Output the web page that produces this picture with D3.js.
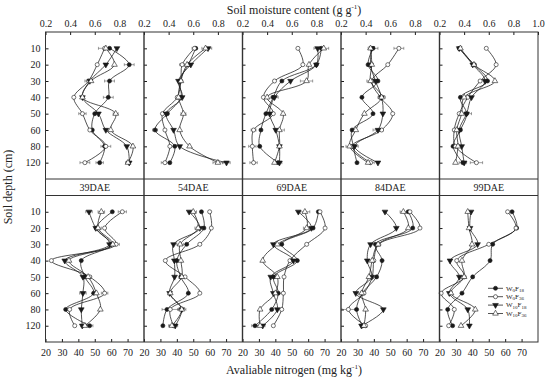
<!DOCTYPE html>
<html>
<head>
<meta charset="utf-8">
<script src="https://cdn.jsdelivr.net/npm/d3@7"></script>
<style>
body { margin: 0; background: #fff; }
text { font-family: "Liberation Serif", "Times New Roman", serif; fill: #222; }
</style>
</head>
<body>
<svg id="chart"></svg>
<script>
const width = 550;
const height = 381;

// depths and growth stages
const depths = ["10", "20", "30", "40", "50", "60", "80", "120"];
const stages = ["39DAE", "54DAE", "69DAE", "84DAE", "99DAE"];
const seriesLabels = [["W", "0", "F", "18"], ["W", "0", "F", "36"], ["W", "10", "F", "18"], ["W", "10", "F", "36"]];

// soil moisture (g g-1), order per stage: filled circle, open circle, filled triangle, open triangle
const moisture39 = [
    [0.72, 0.88, 0.72, 0.71, 0.60, 0.58, 0.68, 0.64],
    [0.68, 0.62, 0.55, 0.43, 0.50, 0.56, 0.69, 0.52],
    [0.78, 0.69, 0.56, 0.50, 0.63, 0.69, 0.86, 0.88],
    [0.69, 0.76, 0.57, 0.50, 0.77, 0.73, 0.91, 0.87]
];
const moisture54 = [
    [0.62, 0.56, 0.49, 0.50, 0.39, 0.29, 0.45, 0.41],
    [0.61, 0.51, 0.50, 0.47, 0.35, 0.37, 0.41, 0.37],
    [0.72, 0.58, 0.48, 0.51, 0.38, 0.44, 0.49, 0.87],
    [0.70, 0.55, 0.50, 0.48, 0.52, 0.49, 0.57, 0.80]
];
const moisture69 = [
    [0.84, 0.80, 0.52, 0.45, 0.39, 0.35, 0.34, 0.49],
    [0.65, 0.69, 0.46, 0.37, 0.45, 0.29, 0.28, 0.29],
    [0.81, 0.80, 0.59, 0.46, 0.42, 0.47, 0.50, 0.50],
    [0.86, 0.74, 0.72, 0.40, 0.53, 0.50, 0.50, 0.46]
];
const moisture84 = [
    [0.46, 0.42, 0.50, 0.37, 0.46, 0.29, 0.30, 0.33],
    [0.67, 0.58, 0.45, 0.52, 0.62, 0.53, 0.29, 0.44],
    [0.45, 0.44, 0.48, 0.53, 0.54, 0.50, 0.31, 0.50],
    [0.44, 0.45, 0.44, 0.53, 0.39, 0.32, 0.27, 0.42]
];
const moisture99 = [
    [0.36, 0.48, 0.59, 0.37, 0.42, 0.37, 0.31, 0.39],
    [0.58, 0.66, 0.53, 0.43, 0.36, 0.32, 0.33, 0.50],
    [0.36, 0.47, 0.57, 0.46, 0.42, 0.36, 0.38, 0.40],
    [0.37, 0.48, 0.65, 0.40, 0.38, 0.34, 0.35, 0.33]
];

// available nitrogen (mg kg-1)
const nitrogen39 = [
    [60.7, 51, 60, 41.8, 44, 49.3, 32.3, 46.9],
    [66.8, 56, 63, 23.6, 47, 56, 34.7, 37.8],
    [46.5, 50.6, 59, 31.7, 42.8, 42.8, 41.8, 42.4],
    [54, 52, 61, 34.3, 46, 51, 53.4, 44]
];
const nitrogen54 = [
    [55, 56.5, 46, 40, 42.4, 47, 34, 31.5],
    [60, 61, 54, 33, 45, 54, 36, 38],
    [47.5, 54, 38, 38.5, 38.6, 35.6, 43, 39],
    [50, 53, 42, 42.5, 43, 36, 43, 37]
];
const nitrogen69 = [
    [66.2, 63, 43.9, 53.4, 39, 41.8, 37.8, 27.6],
    [67.2, 70.3, 59.1, 48.9, 45.3, 44.9, 43.9, 38.8],
    [54, 62, 38.8, 51, 37.2, 38.8, 41.2, 32.3],
    [58, 59.1, 41.2, 32.3, 41.2, 40, 30.7, 30.7]
];
const nitrogen84 = [
    [61, 63.7, 41, 45, 41.7, 33, 29.5, 33],
    [62, 68.1, 43, 40, 39, 34, 24.5, 35],
    [46.8, 53.7, 38, 36, 38.7, 29, 45.8, 32.5],
    [58, 61, 42.6, 39, 37, 32.6, 35, 34]
];
const nitrogen99 = [
    [64.2, 67, 52.4, 50.8, 40.2, 33.7, 25, 28],
    [61.5, 66.6, 50, 30.5, 35.1, 21, 29, 25.6],
    [39.2, 38.6, 43.2, 26.4, 32.1, 26, 37.2, 38.2],
    [37.2, 38, 39.8, 33.7, 35, 27, 41.8, 33.1]
];

// visible error bars: [stage, series, depth index, half width]
const moistureErr = [
    [0, 1, 0, 0.05], [0, 0, 1, 0.04], [0, 1, 2, 0.03], [0, 0, 2, 0.04], [0, 0, 3, 0.04],
    [0, 1, 4, 0.03], [0, 3, 4, 0.02], [0, 1, 6, 0.04], [0, 3, 7, 0.02], [0, 1, 7, 0.04], [0, 0, 7, 0.03],
    [1, 3, 0, 0.03], [1, 2, 0, 0.03], [1, 1, 0, 0.02], [1, 1, 1, 0.02], [1, 3, 4, 0.02],
    [1, 0, 5, 0.02], [1, 3, 7, 0.04], [1, 2, 7, 0.03], [1, 1, 7, 0.03],
    [2, 0, 0, 0.06], [2, 3, 2, 0.05], [2, 2, 3, 0.03], [2, 1, 5, 0.02], [2, 3, 5, 0.04],
    [2, 1, 6, 0.03], [2, 0, 7, 0.03], [2, 1, 7, 0.03],
    [3, 0, 0, 0.04], [3, 1, 0, 0.04], [3, 3, 2, 0.03], [3, 2, 3, 0.03], [3, 2, 5, 0.04],
    [3, 1, 6, 0.05], [3, 1, 7, 0.03],
    [4, 3, 1, 0.02], [4, 0, 4, 0.04], [4, 1, 7, 0.05], [4, 0, 7, 0.03]
];
const nitrogenErr = [
    [0, 2, 0, 2], [0, 3, 0, 2], [0, 1, 0, 2.5], [0, 3, 1, 2], [0, 1, 2, 2], [0, 3, 4, 2],
    [0, 2, 5, 2], [0, 1, 5, 2], [0, 3, 7, 2.5], [0, 0, 7, 2],
    [1, 3, 0, 2], [1, 3, 1, 2], [1, 3, 2, 2], [1, 1, 6, 5], [1, 3, 6, 2.5], [1, 1, 7, 2.5], [1, 3, 7, 2],
    [2, 3, 0, 3], [2, 3, 1, 2], [2, 3, 7, 3], [2, 0, 7, 2],
    [3, 3, 0, 2], [3, 1, 6, 4], [3, 3, 5, 2]
];

const moistureStages = [moisture39, moisture54, moisture69, moisture84, moisture99];
const nitrogenStages = [nitrogen39, nitrogen54, nitrogen69, nitrogen84, nitrogen99];

const svg = d3.select("#chart").attr("width", width).attr("height", height);

const plotLeft = 45.5;
const panelW = 98.5;
const topY0 = 32, topY1 = 179;
const stripY1 = 195.5;
const botY1 = 342;
const ink = "#1a1a1a";
const serif = "'Liberation Serif', 'Times New Roman', serif";

const yTop = d3.scalePoint().domain(depths).range([topY0, topY1]).padding(1);
const yBot = d3.scalePoint().domain(depths).range([stripY1, botY1]).padding(1);

function markerPath(i) {
    if (i < 2) return d3.symbol(d3.symbolCircle, 13)();
    return d3.symbol(d3.symbolTriangle, 14)();
}
const filled = [true, false, true, false];
const rotate = [0, 0, 180, 0];

function drawPanel(g, data, errs, x, y, p) {
    const line = d3.line()
        .x(d => x(d.v))
        .y(d => y(d.depth))
        .curve(d3.curveCatmullRom.alpha(0.5));

    data.forEach((vals, s) => {
        const pts = vals.map((v, k) => ({ v: v, depth: depths[k] }));
        g.append("path")
            .attr("d", line(pts))
            .attr("fill", "none")
            .attr("stroke", ink)
            .attr("stroke-width", 0.75);
    });

    errs.filter(e => e[0] === p).forEach(e => {
        const v = data[e[1]][e[2]];
        const cy = y(depths[e[2]]);
        const eg = g.append("g").attr("stroke", "#444").attr("stroke-width", 0.5);
        eg.append("line").attr("x1", x(v - e[3])).attr("x2", x(v + e[3])).attr("y1", cy).attr("y2", cy);
        eg.append("line").attr("x1", x(v - e[3])).attr("x2", x(v - e[3])).attr("y1", cy - 1.5).attr("y2", cy + 1.5);
        eg.append("line").attr("x1", x(v + e[3])).attr("x2", x(v + e[3])).attr("y1", cy - 1.5).attr("y2", cy + 1.5);
    });

    data.forEach((vals, s) => {
        g.selectAll(null)
            .data(vals)
            .enter().append("path")
            .attr("d", markerPath(s))
            .attr("transform", (v, k) => `translate(${x(v)},${y(depths[k])}) rotate(${rotate[s]})`)
            .attr("fill", filled[s] ? ink : "#fff")
            .attr("stroke", ink)
            .attr("stroke-width", 0.6);
    });
}

function styleAxis(a) {
    a.select(".domain").remove();
    a.selectAll("line").attr("stroke", ink);
    a.selectAll("text").style("font-size", "10px").style("font-family", serif).attr("fill", ink);
}

stages.forEach((stage, p) => {
    const left = plotLeft + p * panelW;
    const xM = d3.scaleLinear().domain([0.2, 1.0]).range([left, left + panelW]);
    const xN = d3.scaleLinear().domain([20, 80]).range([left, left + panelW]);
    const last = p === stages.length - 1;

    // top axis (moisture)
    svg.append("g")
        .attr("transform", `translate(0,${topY0})`)
        .call(d3.axisTop(xM)
            .tickValues(last ? [0.2, 0.4, 0.6, 0.8, 1.0] : [0.2, 0.4, 0.6, 0.8])
            .tickFormat(d3.format(".1f"))
            .tickSizeInner(-3).tickSizeOuter(0).tickPadding(5))
        .call(styleAxis);

    // bottom axis (nitrogen)
    svg.append("g")
        .attr("transform", `translate(0,${botY1})`)
        .call(d3.axisBottom(xN)
            .tickValues([20, 30, 40, 50, 60, 70])
            .tickSizeInner(-3).tickSizeOuter(0).tickPadding(7))
        .call(styleAxis);

    // depth ticks on each panel
    [yTop, yBot].forEach(ys => {
        svg.append("g")
            .attr("transform", `translate(${left},0)`)
            .call(d3.axisLeft(ys)
                .tickSizeInner(-3).tickSizeOuter(0).tickPadding(5)
                .tickFormat(p === 0 ? (d => d) : () => ""))
            .call(styleAxis);
    });

    drawPanel(svg.append("g"), moistureStages[p], moistureErr, xM, yTop, p);
    drawPanel(svg.append("g"), nitrogenStages[p], nitrogenErr, xN, yBot, p);

    // strip label
    svg.append("text")
        .attr("x", left + panelW / 2)
        .attr("y", (topY1 + stripY1) / 2 + 3.5)
        .attr("text-anchor", "middle")
        .style("font-size", "10px")
        .text(stage);
});

// frames
const frame = svg.append("g").attr("fill", "none").attr("stroke", "#333");
frame.append("rect")
    .attr("x", plotLeft).attr("y", topY0)
    .attr("width", panelW * stages.length).attr("height", botY1 - topY0)
    .attr("stroke-width", 1);
frame.append("line").attr("x1", plotLeft).attr("x2", plotLeft + panelW * 5)
    .attr("y1", topY1).attr("y2", topY1).attr("stroke-width", 1);
frame.append("line").attr("x1", plotLeft).attr("x2", plotLeft + panelW * 5)
    .attr("y1", stripY1).attr("y2", stripY1).attr("stroke-width", 1);
for (let p = 1; p < stages.length; p++) {
    frame.append("line")
        .attr("x1", plotLeft + p * panelW).attr("x2", plotLeft + p * panelW)
        .attr("y1", topY0).attr("y2", botY1)
        .attr("stroke-width", 1.4);
}

// titles
const t1 = svg.append("text")
    .attr("x", 294).attr("y", 14)
    .attr("text-anchor", "middle")
    .style("font-size", "12px");
t1.append("tspan").text("Soil moisture content (g g");
t1.append("tspan").attr("dy", -5).style("font-size", "7px").text("-1");
t1.append("tspan").attr("dy", 5).text(")");

const t2 = svg.append("text")
    .attr("x", 294).attr("y", 374)
    .attr("text-anchor", "middle")
    .style("font-size", "12px");
t2.append("tspan").text("Avaliable nitrogen (mg kg");
t2.append("tspan").attr("dy", -5).style("font-size", "7px").text("-1");
t2.append("tspan").attr("dy", 5).text(")");

svg.append("text")
    .attr("transform", "translate(12,187) rotate(-90)")
    .attr("text-anchor", "middle")
    .style("font-size", "12px")
    .text("Soil depth (cm)");

// legend
const legend = svg.append("g");
seriesLabels.forEach((lab, s) => {
    const ly = 288.3 + s * 8.4;
    legend.append("line")
        .attr("x1", 488).attr("x2", 503).attr("y1", ly).attr("y2", ly)
        .attr("stroke", ink).attr("stroke-width", 0.75);
    legend.append("path")
        .attr("d", markerPath(s))
        .attr("transform", `translate(495.5,${ly}) rotate(${rotate[s]})`)
        .attr("fill", filled[s] ? ink : "#fff")
        .attr("stroke", ink).attr("stroke-width", 0.6);
    const tx = legend.append("text")
        .attr("x", 506).attr("y", ly + 2.2)
        .style("font-size", "7px");
    tx.append("tspan").text(lab[0]);
    tx.append("tspan").attr("dy", 1.5).style("font-size", "5px").text(lab[1]);
    tx.append("tspan").attr("dy", -1.5).text(lab[2]);
    tx.append("tspan").attr("dy", 1.5).style("font-size", "5px").text(lab[3]);
});
</script>
</body>
</html>
